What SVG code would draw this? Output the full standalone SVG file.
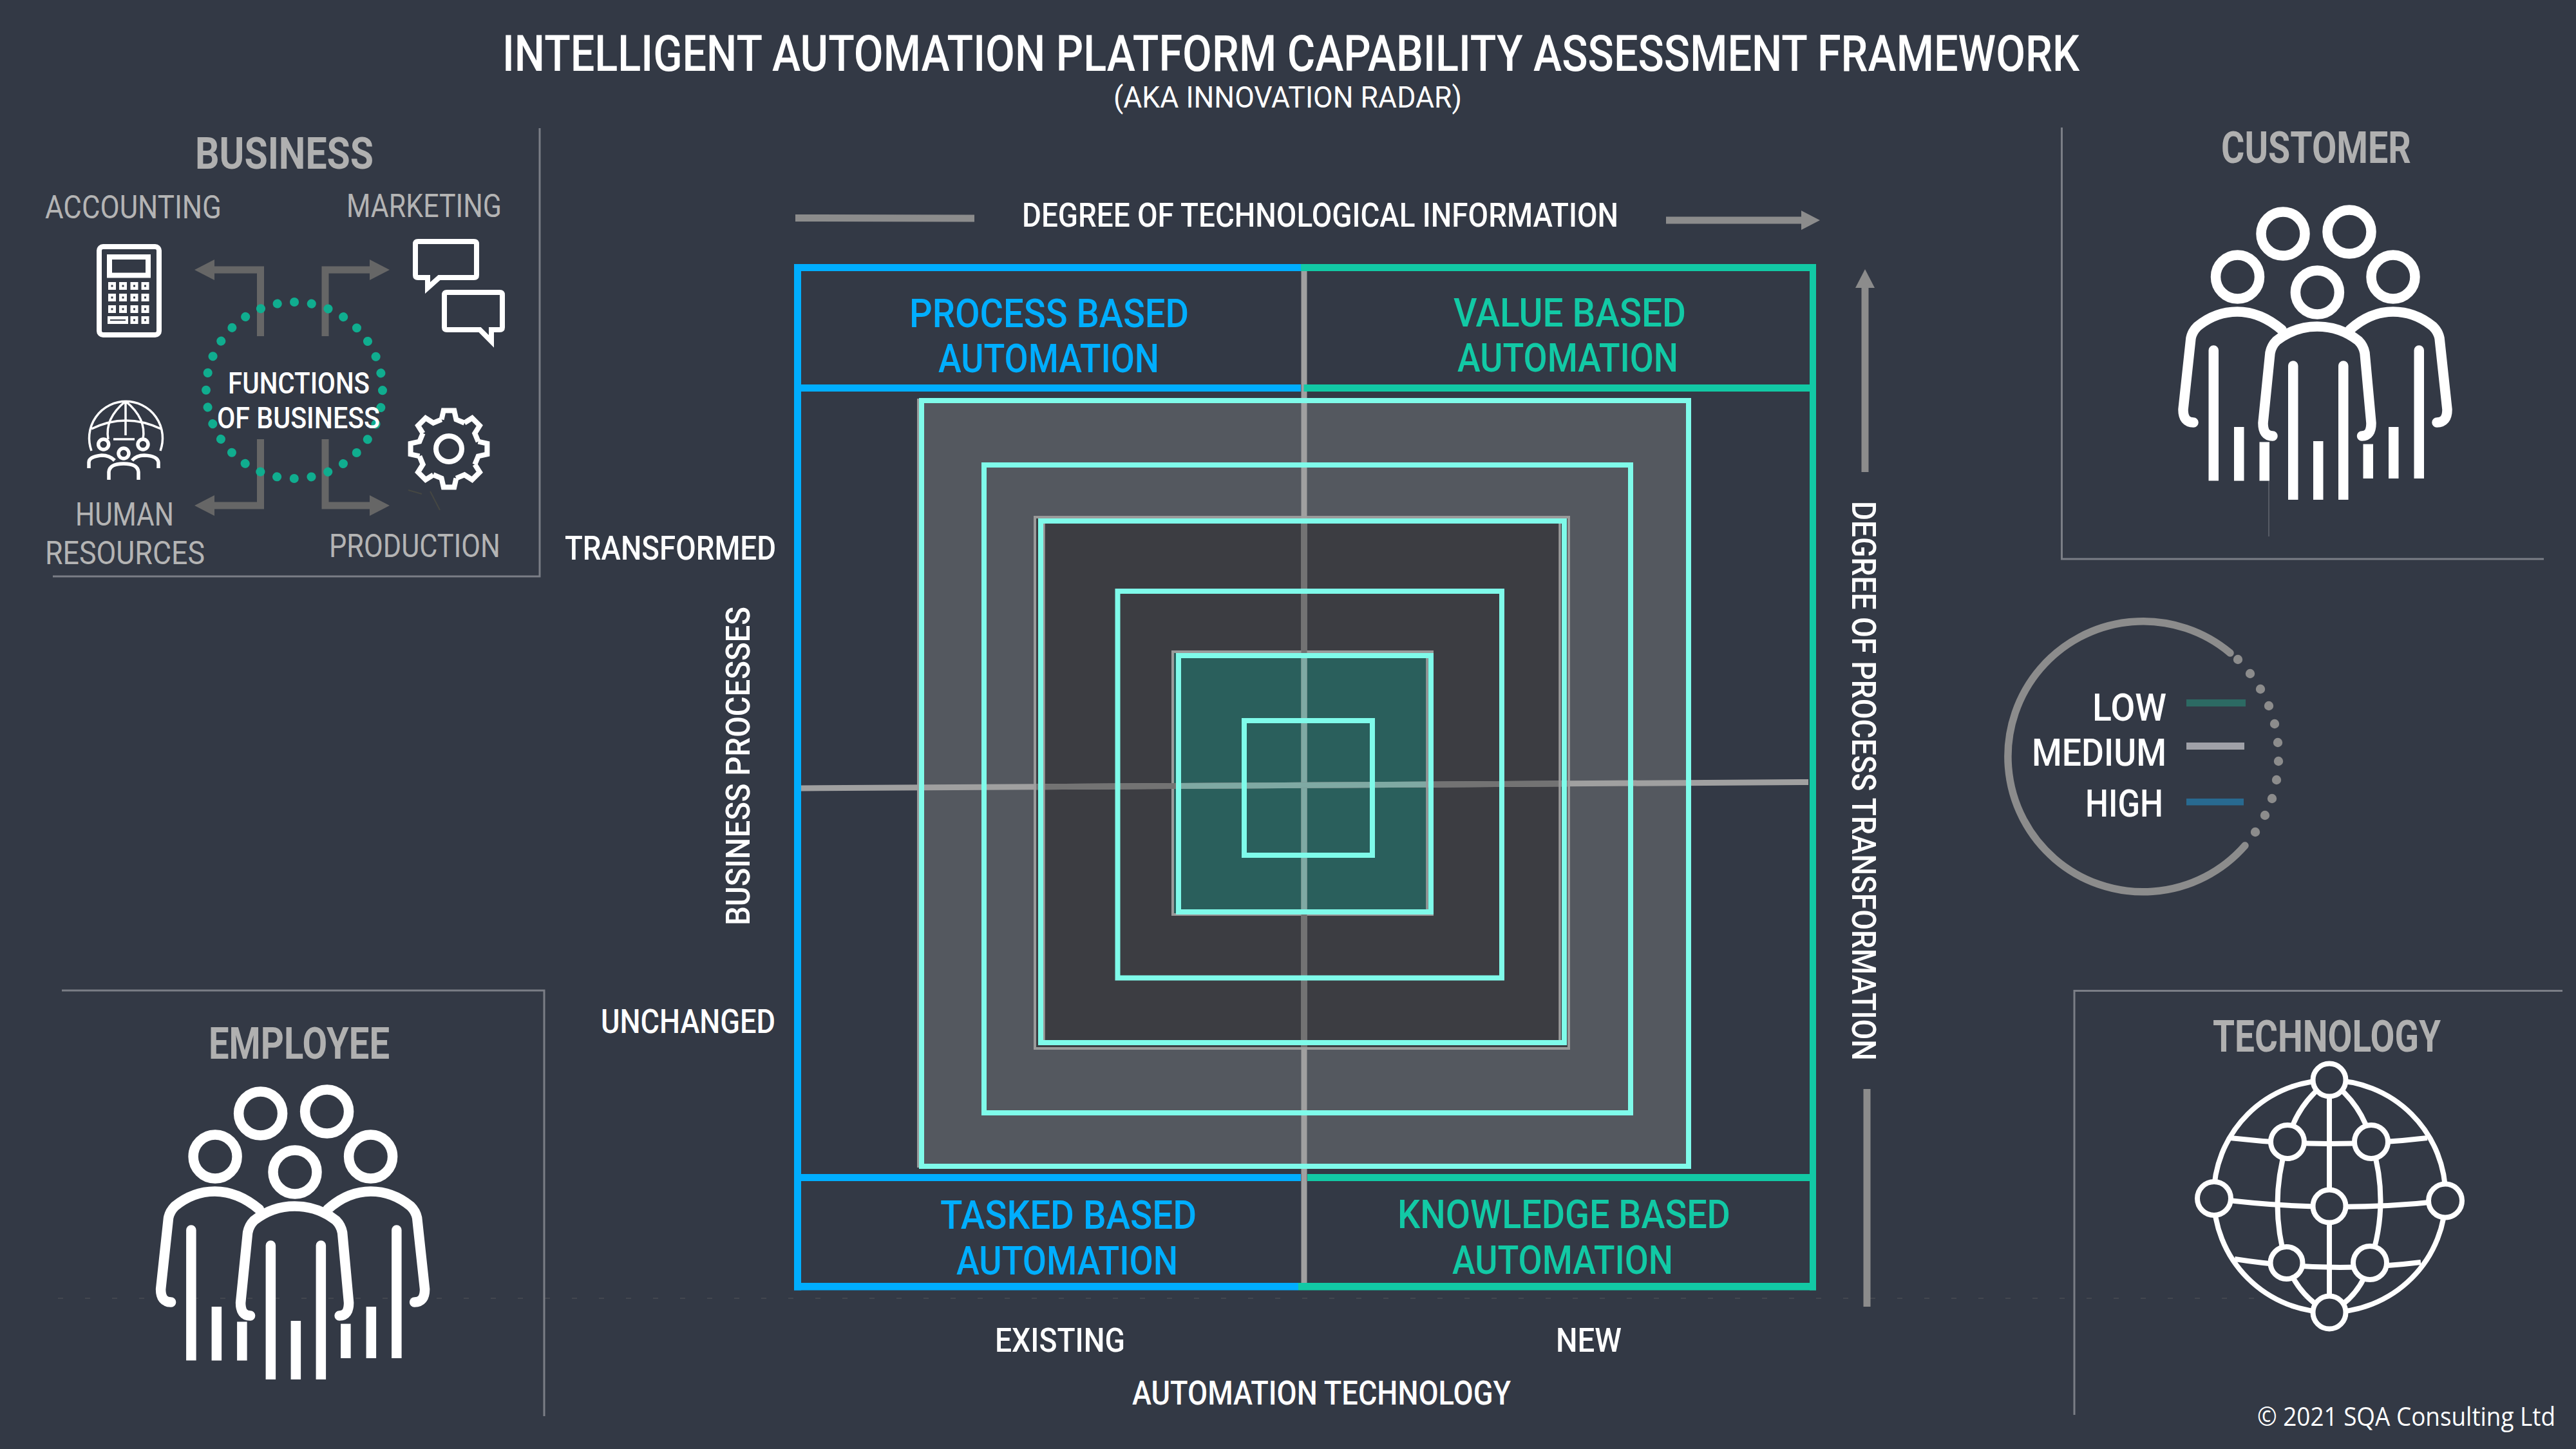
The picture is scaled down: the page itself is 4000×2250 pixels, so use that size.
<svg xmlns="http://www.w3.org/2000/svg" width="4000" height="2250" viewBox="0 0 4000 2250">
<style>
text{font-family:Roboto,"Liberation Sans",sans-serif;fill:#fff;font-weight:500}
.frame{fill:none;stroke:#7b7e86;stroke-width:3}
.head{font-size:69px;font-weight:700;fill:#b0b0b0}
.fn{font-size:50px;font-weight:400;fill:#b4b4b4}
.fw{font-size:46px;font-weight:500}
.ax{font-size:51px}
.q{font-size:61px}
.blue{fill:#00aeff}
.green{fill:#12c9a5}
.ic{fill:none;stroke:#fff;stroke-width:15.5;stroke-linecap:round}
.bar{fill:#fff}
.cy{fill:none;stroke:#7ffbea;stroke-width:8}
.gr{fill:none;stroke:#9a9a9a;stroke-width:4}
.gl{fill:none;stroke-width:9}
.arr{fill:none;stroke:#666;stroke-width:11}
.axl{fill:none;stroke:#8c8c8c;stroke-width:11}
.wl{fill:none;stroke:#fff;stroke-width:8}
.tn{fill:#333945;stroke:#fff;stroke-width:8}
.dot{fill:#8c8c8c}
</style>
<defs>
<marker id="gh" markerUnits="userSpaceOnUse" markerWidth="32" markerHeight="32" refX="0" refY="16" orient="auto"><path d="M0,0L31,16L0,32Z" fill="#666"/></marker>
<marker id="ah" markerUnits="userSpaceOnUse" markerWidth="30" markerHeight="30" refX="0" refY="15" orient="auto"><path d="M0,0L29,15L0,30Z" fill="#8c8c8c"/></marker>
<g id="people">
<circle class="ic" cx="3545" cy="363" r="34"/><circle class="ic" cx="3648" cy="360" r="34"/>
<circle class="ic" cx="3474.5" cy="430" r="34"/><circle class="ic" cx="3716" cy="430" r="34"/><circle class="ic" cx="3598.4" cy="454" r="34"/>
<path class="ic" d="M3406,656Q3390,656 3390,636L3402,525Q3404,515 3412,507Q3440,484 3474,484Q3510,484 3543,512" stroke-linecap="round"/>
<path class="ic" d="M3784,656Q3800,656 3800,636L3788,525Q3786,515 3778,507Q3750,484 3716,484Q3680,484 3649,512"/>
<path class="ic" d="M3529,677Q3514,677 3514,657L3525,548Q3527,537 3535,529Q3563,507 3598,507Q3634,507 3662,529Q3670,537 3672,548L3682,657Q3682,677 3667.5,677"/>
<path class="bar" d="M3429.5,746.6V544a7.75,7.75 0 0 1 15.5,0V746.6Z M3553,776V568a7.75,7.75 0 0 1 15.5,0V776Z M3631,776V568a7.75,7.75 0 0 1 15.5,0V776Z M3748.5,743V544a7.75,7.75 0 0 1 15.5,0V743Z"/>
<rect class="bar" x="3469" y="663" width="15.5" height="83.6"/><rect class="bar" x="3508.5" y="686.4" width="15.5" height="60.2"/>
<rect class="bar" x="3592" y="685" width="15.5" height="91"/><rect class="bar" x="3669.5" y="689.6" width="15.5" height="53.4"/><rect class="bar" x="3709" y="663" width="15.5" height="80"/>
</g>
<g id="btn"><rect x="-6" y="-6" width="12" height="12" fill="#fff"/><rect x="-1.5" y="-1.5" width="3" height="3" fill="#333945"/></g>
<path id="seg" d="M-11.4,-45.6L-8.3,-59.4L8.3,-59.4L11.4,-45.6L24.2,-40.3"/>
</defs>
<rect id="background" width="4000" height="2250" fill="#333945"/>
<path d="M90,2016H3600" stroke="#43464f" stroke-width="2" stroke-dasharray="8 34" fill="none"/>

<g id="title">
<text x="780" y="110" font-size="78" textLength="2449" lengthAdjust="spacingAndGlyphs">INTELLIGENT AUTOMATION PLATFORM CAPABILITY ASSESSMENT FRAMEWORK</text>
<text x="1729" y="167" font-size="46" style="font-weight:400" textLength="541" lengthAdjust="spacingAndGlyphs">(AKA INNOVATION RADAR)</text>
</g>

<g id="connectors">
<g id="axes">
<path class="axl" d="M1235,338.5L1513,339"/>
<path class="axl" d="M2587,342L2797,342" marker-end="url(#ah)"/>
<path class="axl" d="M2896,733V447" marker-end="url(#ah)"/>
<path class="axl" d="M2899,1691L2899,2029"/>
</g>
<g id="business-arrows">
<path class="arr" d="M404.5,522V419H333" marker-end="url(#gh)"/>
<path class="arr" d="M505,522V419H574" marker-end="url(#gh)"/>
<path class="arr" d="M404.5,682V785H333" marker-end="url(#gh)"/>
<path class="arr" d="M505,682V785H574" marker-end="url(#gh)"/>
</g>
</g>

<g id="radar">
<rect x="1431" y="622" width="1191" height="1189" fill="#54585f"/>
<path d="M1426,619V1813" class="gr"/>
<rect class="gr" x="1607" y="803" width="829" height="825" style="fill:#3c3d42"/>
<rect x="1821" y="1012" width="403" height="408" style="fill:#2a5f5c" class="gr"/>
<g id="radar-axes">
<path class="gl" stroke="#a0a0a0" d="M2025,421V2003"/>
<path class="gl" stroke="#737373" d="M2025,805V1626"/>
<path class="gl" stroke="#7fa9a3" d="M2025,1014V1418"/>
<path class="gl" stroke="#a0a0a0" d="M1244,1224L2808,1214.5"/>
<path class="gl" stroke="#737373" d="M1609,1221.8L2434,1216.8"/>
<path class="gl" stroke="#7fa9a3" d="M1830,1220.4L2222,1218.1"/>
</g>
<path d="M1621,813V1616M2422,813V1616M2216,1022V1412" fill="none" stroke="#9a9a9a" stroke-width="3.5"/>
<rect class="cy" x="1431" y="622" width="1191" height="1189"/>
<rect class="cy" x="1528" y="722" width="1004" height="1006"/>
<rect class="cy" x="1616" y="809" width="813" height="810"/>
<rect class="cy" x="1735.5" y="918" width="596.5" height="600.5"/>
<rect class="cy" x="1830" y="1018" width="392" height="398"/>
<rect class="cy" x="1932" y="1119" width="199" height="209"/>
</g>

<g id="quadrant-frames">
<g class="blue"><rect x="1233" y="410" width="787" height="11"/><rect x="1233" y="597" width="787" height="11"/><rect x="1233" y="410" width="11" height="1593.5"/><rect x="1233" y="1823" width="787" height="11"/><rect x="1233" y="1992" width="783" height="11.5"/></g>
<g class="green"><rect x="2020" y="410" width="800" height="11"/><rect x="2024.5" y="597" width="795.5" height="11"/><rect x="2810" y="410" width="10" height="1593.5"/><rect x="2030" y="1823" width="790" height="11"/><rect x="2016" y="1992" width="804" height="11.5"/></g>
</g>
<g id="process-based"><text class="q blue" x="1412" y="508" textLength="434" lengthAdjust="spacingAndGlyphs">PROCESS BASED</text><text class="q blue" x="1457" y="578" textLength="343" lengthAdjust="spacingAndGlyphs">AUTOMATION</text></g>
<g id="value-based"><text class="q green" x="2257" y="507" textLength="361" lengthAdjust="spacingAndGlyphs">VALUE BASED</text><text class="q green" x="2263" y="577" textLength="343" lengthAdjust="spacingAndGlyphs">AUTOMATION</text></g>
<g id="tasked-based"><text class="q blue" x="1460" y="1908" textLength="398" lengthAdjust="spacingAndGlyphs">TASKED BASED</text><text class="q blue" x="1485" y="1979" textLength="344" lengthAdjust="spacingAndGlyphs">AUTOMATION</text></g>
<g id="knowledge-based"><text class="q green" x="2170" y="1907" textLength="517" lengthAdjust="spacingAndGlyphs">KNOWLEDGE BASED</text><text class="q green" x="2255" y="1978" textLength="343" lengthAdjust="spacingAndGlyphs">AUTOMATION</text></g>

<g id="axis-labels">
<text class="ax" x="1587" y="352" textLength="926" lengthAdjust="spacingAndGlyphs">DEGREE OF TECHNOLOGICAL INFORMATION</text>
<text class="ax" transform="translate(2876,778) rotate(90)" textLength="869" lengthAdjust="spacingAndGlyphs">DEGREE OF PROCESS TRANSFORMATION</text>
<text class="ax" transform="translate(1164,1437) rotate(-90)" textLength="495" lengthAdjust="spacingAndGlyphs">BUSINESS PROCESSES</text>
<text class="ax" x="877" y="869" textLength="328" lengthAdjust="spacingAndGlyphs">TRANSFORMED</text>
<text class="ax" x="933" y="1604" textLength="271" lengthAdjust="spacingAndGlyphs">UNCHANGED</text>
<text class="ax" x="1545" y="2099" textLength="202" lengthAdjust="spacingAndGlyphs">EXISTING</text>
<text class="ax" x="2416" y="2099" textLength="102" lengthAdjust="spacingAndGlyphs">NEW</text>
<text class="ax" x="1758" y="2181" textLength="588" lengthAdjust="spacingAndGlyphs">AUTOMATION TECHNOLOGY</text>
</g>

<g id="business">
<path class="frame" d="M838,199V895H82"/>
<text class="head" x="303" y="262" textLength="277" lengthAdjust="spacingAndGlyphs">BUSINESS</text>
<text class="fn" x="70" y="339" textLength="274" lengthAdjust="spacingAndGlyphs">ACCOUNTING</text>
<text class="fn" x="538" y="337" textLength="241" lengthAdjust="spacingAndGlyphs">MARKETING</text>
<text class="fn" x="117" y="816" textLength="153" lengthAdjust="spacingAndGlyphs">HUMAN</text>
<text class="fn" x="70" y="876" textLength="248" lengthAdjust="spacingAndGlyphs">RESOURCES</text>
<text class="fn" x="511" y="865" textLength="266" lengthAdjust="spacingAndGlyphs">PRODUCTION</text>
<circle cx="457" cy="606" r="137" fill="none" stroke="#10ad8f" stroke-width="14" stroke-linecap="round" stroke-dasharray="0.1 26.8" transform="rotate(-90 457 606)"/>
<text class="fw" x="354" y="611" textLength="220" lengthAdjust="spacingAndGlyphs">FUNCTIONS</text>
<text class="fw" x="337" y="665" textLength="253" lengthAdjust="spacingAndGlyphs">OF BUSINESS</text>
<g id="calculator">
<rect class="wl" x="154" y="383" width="93" height="137" rx="6"/>
<rect class="wl" x="170" y="399" width="60" height="28.5"/>
<use href="#btn" x="174" y="444"/><use href="#btn" x="191" y="444"/><use href="#btn" x="208.5" y="444"/><use href="#btn" x="225.5" y="444"/>
<use href="#btn" x="174" y="462"/><use href="#btn" x="191" y="462"/><use href="#btn" x="208.5" y="462"/><use href="#btn" x="225.5" y="462"/>
<use href="#btn" x="174" y="480"/><use href="#btn" x="191" y="480"/><use href="#btn" x="208.5" y="480"/><use href="#btn" x="225.5" y="480"/>
<rect x="167" y="491" width="32" height="12" fill="#fff"/><rect x="171" y="496" width="24" height="2" fill="#333945"/>
<use href="#btn" x="208.5" y="497"/><use href="#btn" x="225.5" y="497"/>
</g>
<g id="speech-bubbles" class="wl">
<path d="M649,375H736Q740,375 740,379V427Q740,431 736,431H682L664,447V431H649Q645,431 645,427V379Q645,375 649,375Z"/>
<path d="M694,454H776Q780,454 780,458V508Q780,512 776,512H763V530L745,512H694Q690,512 690,508V458Q690,454 694,454Z"/>
</g>
<g id="gear" class="wl" transform="translate(697,697)">
<use href="#seg"/><use href="#seg" transform="rotate(45)"/><use href="#seg" transform="rotate(90)"/><use href="#seg" transform="rotate(135)"/><use href="#seg" transform="rotate(180)"/><use href="#seg" transform="rotate(225)"/><use href="#seg" transform="rotate(270)"/><use href="#seg" transform="rotate(315)"/>
<circle r="20"/>
</g>
<path d="M634,761L655,767M668,763L683,792" stroke="#454743" stroke-width="2" fill="none"/>
<g id="hr-globe" fill="none" stroke="#fff">
<g stroke-width="3.5">
<path d="M142,700A57,57 0 1 1 249,700"/>
<path d="M195,623V676M195,623Q162,650 168,682M195,623Q228,650 222,682"/>
<path d="M142,666Q195,640 250,666M176,682H209"/>
</g>
<g stroke-width="5.5">
<circle cx="160.7" cy="690" r="8"/><circle cx="222" cy="690" r="8"/><circle cx="192" cy="704" r="8"/>
<path d="M138,727V718Q138,709 158,707Q170,707 178,715"/>
<path d="M246,727V718Q245,708 224,707Q212,707 205,715"/>
<path d="M169,745V733Q170,720 192,720Q214,720 215,733V745"/>
</g>
</g>
</g>

<g id="customer">
<path class="frame" d="M3201.5,198V868H3950"/>
<path d="M3523,747V833" stroke="#7b7e86" stroke-width="1" fill="none"/>
<text class="head" x="3449" y="253" textLength="295" lengthAdjust="spacingAndGlyphs">CUSTOMER</text>
<use href="#people"/>
</g>

<g id="employee">
<path class="frame" d="M96,1538H845V2199"/>
<text class="head" x="324" y="1644" textLength="281" lengthAdjust="spacingAndGlyphs">EMPLOYEE</text>
<use href="#people" transform="translate(-3140.4,1366)"/>
</g>

<g id="technology">
<path class="frame" d="M3979,1538.5H3221V2197"/>
<text class="head" x="3436" y="1633" textLength="354" lengthAdjust="spacingAndGlyphs">TECHNOLOGY</text>
<g class="wl">
<circle cx="3617.5" cy="1857.5" r="180"/>
<path d="M3617,1677V2038"/>
<path d="M3617,1677Q3565,1715 3552,1773Q3522,1867 3550,1961Q3570,2015 3617,2038"/>
<path d="M3617,1677Q3669,1715 3682,1773Q3712,1867 3680,1961Q3664,2015 3617,2038"/>
<path d="M3463,1767Q3617,1785 3769,1767"/>
<path d="M3438,1861Q3617,1885 3797,1864.5"/>
<path d="M3470,1955Q3617,1978 3759,1960"/>
</g>
<circle class="tn" cx="3617" cy="1677" r="25.5"/><circle class="tn" cx="3552" cy="1773" r="26"/><circle class="tn" cx="3682" cy="1773" r="26"/>
<circle class="tn" cx="3438" cy="1861" r="26"/><circle class="tn" cx="3617" cy="1873" r="25.5"/><circle class="tn" cx="3797" cy="1864.5" r="26"/>
<circle class="tn" cx="3550.5" cy="1961" r="25"/><circle class="tn" cx="3680" cy="1961" r="26"/><circle class="tn" cx="3617" cy="2038" r="25.5"/>
</g>

<g id="legend">
<path d="M3463,1014A210,210 0 1 0 3486,1313" fill="none" stroke="#8c8c8c" stroke-width="11.5" stroke-linecap="round"/>
<g class="dot"><circle cx="3475" cy="1024" r="7.2"/><circle cx="3494" cy="1046" r="7.2"/><circle cx="3510" cy="1070" r="7.2"/><circle cx="3523" cy="1096" r="7.2"/><circle cx="3532" cy="1124" r="7.2"/><circle cx="3537" cy="1153" r="7.2"/><circle cx="3538" cy="1182" r="7.2"/><circle cx="3535" cy="1211" r="7.2"/><circle cx="3528" cy="1240" r="7.2"/><circle cx="3517" cy="1266" r="7.2"/><circle cx="3502" cy="1292" r="7.2"/></g>
<text x="3249" y="1119" font-size="60" textLength="115" lengthAdjust="spacingAndGlyphs">LOW</text>
<text x="3155" y="1189" font-size="60" textLength="209" lengthAdjust="spacingAndGlyphs">MEDIUM</text>
<text x="3238" y="1268" font-size="60" textLength="121" lengthAdjust="spacingAndGlyphs">HIGH</text>
<rect x="3395" y="1086" width="92" height="11" fill="#2c6a63"/>
<rect x="3395" y="1153" width="90" height="11" fill="#a0a1a8"/>
<rect x="3395" y="1240" width="89" height="10.5" fill="#286a90"/>
</g>

<text id="copyright" x="3505" y="2214" font-size="40" style="font-family:'Open Sans',sans-serif;font-weight:400" textLength="463" lengthAdjust="spacingAndGlyphs">© 2021 SQA Consulting Ltd</text>
</svg>
